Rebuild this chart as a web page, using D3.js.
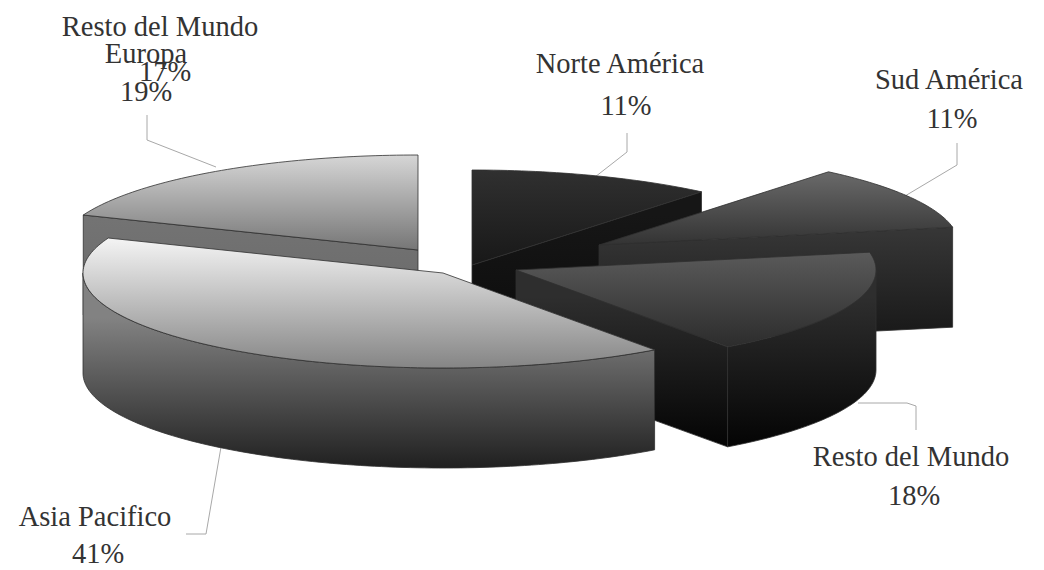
<!DOCTYPE html>
<html lang="es">
<head>
<meta charset="utf-8">
<title>Distribución por región</title>
<script src="https://cdnjs.cloudflare.com/ajax/libs/d3/7.8.5/d3.min.js"></script>
<style>
  html, body { margin: 0; padding: 0; background: #fff; }
  svg { display: block; }
  text { font-family: "Liberation Serif", serif; font-size: 28.5px; fill: #333; text-anchor: middle; }
</style>
</head>
<body>
<svg id="chart" width="1044" height="570"></svg>
<script>
// Regional shares, clockwise from twelve o'clock
const regions = ["Norte América", "Sud América", "Resto del Mundo", "Asia Pacifico", "Europa"];
const shares = [11, 11, 18, 41, 19];

// Exploded position of each slice's apex on the page
const apexX = [472, 599, 516, 443, 418];
const apexY = [265, 245, 270, 273, 250];

// Back-to-front painting order
const paintOrder = [4, 0, 1, 2, 3];

// Vertical shading per slice: [top start, top end, side start, side end]
const shades = [
  ["#303030", "#181818", "#161616", "#0a0a0a"],
  ["#6a6a6a", "#333333", "#404040", "#161616"],
  ["#5a5a5a", "#2c2c2c", "#2e2e2e", "#040404"],
  ["#f4f4f4", "#858585", "#828282", "#202020"],
  ["#d6d6d6", "#767676", "#757575", "#666666"]
];

// Leader lines and label anchors
const labelX = [620, 949, 911, 95, 146];
const labelY = [73, 89, 466, 526, 63];
const percentX = [626, 952, 914, 98, 146];
const percentY = [115, 128, 505, 563, 101];
const leaders = [
  [[627, 133], [627, 152], [595, 177]],
  [[957, 143], [957, 165], [905, 196]],
  [[858, 403], [907, 403], [916, 406], [916, 430]],
  [[221, 447], [206, 534], [186, 534]],
  [[147, 115], [147, 140], [216, 167]]
];

// A second label set sits behind the Europa one
const extraName = "Resto del Mundo";
const extraShare = 17;
const extraNamePos = [160, 36];
const extraSharePos = [165, 81];

const radiusX = 360;
const radiusY = 95;
const depth = 100;
const sideShadeLead = 50;

const svg = d3.select("#chart");
const defs = svg.append("defs");

const pie = d3.pie().sort(null).startAngle(0).endAngle(2 * Math.PI);
const arcs = pie(shares);

// Rim scales: the tilted disc is a circle of unit radius squeezed vertically
const sx = d3.scaleLinear().domain([-1, 1]).range([-radiusX, radiusX]);
const sy = d3.scaleLinear().domain([-1, 1]).range([-radiusY, radiusY]);
const line = d3.line();

const rimPoint = (i, a, drop = 0) => [
  apexX[i] + sx(Math.sin(a)),
  apexY[i] + sy(-Math.cos(a)) + drop
];
const rim = (i, a0, a1, drop = 0) => {
  const steps = Math.max(2, Math.ceil((a1 - a0) / 0.02));
  return d3.range(steps + 1).map(k => rimPoint(i, a0 + (a1 - a0) * k / steps, drop));
};

const gradient = (id, y0, y1, c0, c1) => {
  const g = defs.append("linearGradient")
    .attr("id", id).attr("gradientUnits", "userSpaceOnUse")
    .attr("x1", 0).attr("x2", 0).attr("y1", y0).attr("y2", y1);
  g.append("stop").attr("offset", 0).attr("stop-color", c0);
  g.append("stop").attr("offset", 1).attr("stop-color", c1);
  return `url(#${id})`;
};

// Leader lines go underneath the slices
svg.append("g").selectAll("path").data(leaders).join("path")
  .attr("d", d => line(d))
  .attr("fill", "none")
  .attr("stroke", "#a8a8a8")
  .attr("stroke-width", 1);

const stroke = "#303030";
const strokeWidth = 0.8;

paintOrder.forEach(i => {
  const { startAngle: a0, endAngle: a1 } = arcs[i];
  const g = svg.append("g").attr("class", "slice").attr("data-region", regions[i]);
  const apex = [apexX[i], apexY[i]];
  const topPts = [apex, ...rim(i, a0, a1)];
  const yExtent = d3.extent(topPts, p => p[1]);
  const topFill = gradient(`top-${i}`, yExtent[0], yExtent[1], shades[i][0], shades[i][1]);
  const sideFill = gradient(`side-${i}`, yExtent[1] - sideShadeLead, yExtent[1] + depth, shades[i][2], shades[i][3]);

  // Radial cut faces that turn toward the viewer
  const cutFace = a => {
    const p = rimPoint(i, a);
    g.append("path")
      .attr("d", line([apex, p, [p[0], p[1] + depth], [apex[0], apex[1] + depth]]) + "Z")
      .attr("fill", sideFill).attr("stroke", stroke).attr("stroke-width", strokeWidth);
  };
  if (Math.sin(a0) < 0) cutFace(a0);
  if (Math.sin(a1) > 0) cutFace(a1);

  // Outer wall along the front half of the rim
  const w0 = Math.max(a0, Math.PI / 2);
  const w1 = Math.min(a1, 3 * Math.PI / 2);
  if (w1 > w0) {
    const wall = [...rim(i, w0, w1), ...rim(i, w0, w1, depth).reverse()];
    g.append("path")
      .attr("d", line(wall) + "Z")
      .attr("fill", sideFill).attr("stroke", stroke).attr("stroke-width", strokeWidth);
  }

  // Top face
  g.append("path")
    .attr("d", line(topPts) + "Z")
    .attr("fill", topFill).attr("stroke", stroke).attr("stroke-width", strokeWidth);
});

// Labels
const labels = svg.append("g");
labels.append("text").attr("x", extraNamePos[0]).attr("y", extraNamePos[1]).text(extraName);
labels.append("text").attr("x", extraSharePos[0]).attr("y", extraSharePos[1]).text(extraShare + "%");
regions.forEach((name, i) => {
  labels.append("text").attr("x", labelX[i]).attr("y", labelY[i]).text(name);
  labels.append("text").attr("x", percentX[i]).attr("y", percentY[i]).text(shares[i] + "%");
});
</script>
</body>
</html>
